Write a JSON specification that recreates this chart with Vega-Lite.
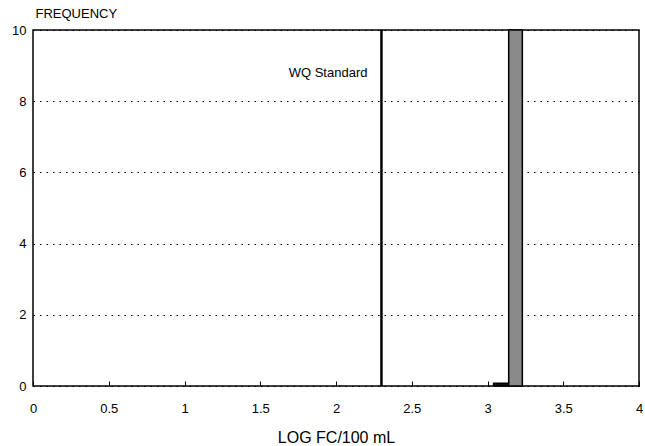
{
  "$schema": "https://vega.github.io/schema/vega-lite/v6.json",
  "width": 606,
  "height": 356,
  "autosize": {"type": "none"},
  "padding": {"left": 33, "top": 30, "right": 6, "bottom": 60},
  "background": "white",
  "config": {
    "font": "Liberation Sans",
    "view": {"stroke": "black", "strokeWidth": 1.5},
    "axis": {
      "domain": false,
      "labelFont": "Liberation Sans",
      "labelFontSize": 13,
      "labelColor": "black",
      "titleFont": "Liberation Sans",
      "titleColor": "black",
      "titleFontWeight": "normal",
      "tickColor": "black"
    }
  },
  "datasets": {
    "bins": [
      {"bin_start": 3.04, "bin_end": 3.14, "count": 0.08, "kind": "low"},
      {"bin_start": 3.14, "bin_end": 3.23, "count": 10, "kind": "main"}
    ],
    "standard": [
      {"value": 2.3, "label": "WQ Standard", "label_y": 8.8}
    ]
  },
  "layer": [
    {
      "data": {"name": "bins"},
      "mark": {"type": "rect", "stroke": "black", "strokeWidth": 1.5},
      "encoding": {
        "x": {
          "field": "bin_start",
          "type": "quantitative",
          "scale": {"domain": [0, 4], "nice": false},
          "axis": {
            "values": [0, 0.5, 1, 1.5, 2, 2.5, 3, 3.5, 4],
            "labelExpr": "datum.value + ''",
            "title": "LOG FC/100 mL",
            "titleFontSize": 16,
            "titlePadding": 14,
            "labelPadding": 21,
            "tickSize": -5,
            "grid": false,
            "labelFlush": false
          }
        },
        "x2": {"field": "bin_end"},
        "y": {
          "field": "count",
          "type": "quantitative",
          "scale": {"domain": [0, 10], "nice": false},
          "axis": {
            "values": [0, 2, 4, 6, 8, 10],
            "title": "FREQUENCY",
            "titleAngle": 0,
            "titleAlign": "left",
            "titleBaseline": "bottom",
            "titleX": 2,
            "titleY": -10,
            "titleFontSize": 13,
            "tickSize": 0,
            "labelPadding": 7,
            "grid": true,
            "gridColor": "black",
            "gridDash": [1.5, 5],
            "gridWidth": 1.2
          }
        },
        "y2": {"datum": 0},
        "fill": {
          "field": "kind",
          "type": "nominal",
          "scale": {"domain": ["low", "main"], "range": ["#111111", "#8a8a8a"]},
          "legend": null
        }
      }
    },
    {
      "data": {"name": "standard"},
      "mark": {"type": "rule", "color": "black", "strokeWidth": 2.5},
      "encoding": {
        "x": {"field": "value", "type": "quantitative"},
        "y": {"datum": 0},
        "y2": {"datum": 10}
      }
    },
    {
      "data": {"name": "standard"},
      "mark": {"type": "text", "align": "right", "baseline": "middle", "dx": -14, "fontSize": 13, "color": "black", "font": "Liberation Sans"},
      "encoding": {
        "x": {"field": "value", "type": "quantitative"},
        "y": {"field": "label_y", "type": "quantitative"},
        "text": {"field": "label"}
      }
    }
  ]
}
